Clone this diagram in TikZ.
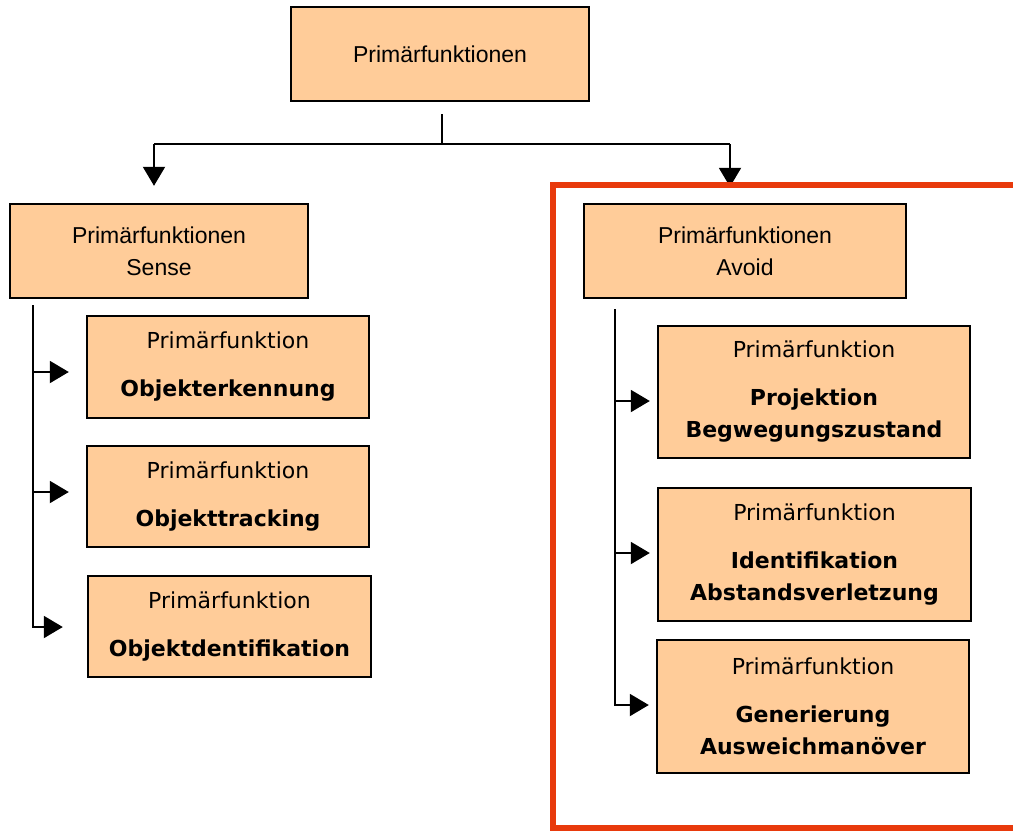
\documentclass[tikz,border=0pt]{standalone}
\usepackage{fontspec}
\setmainfont{DejaVu Sans}
\newfontfamily\headfont{Liberation Sans}
\usepackage{tikz}
\usetikzlibrary{arrows.meta}
\definecolor{boxfill}{RGB}{255,204,153}
\definecolor{frame}{RGB}{232,58,12}

\begin{document}
\begin{tikzpicture}[x=0.5pt, y=-0.5pt,
    headbox/.style={draw=black, line width=1.2pt, fill=boxfill, align=center, inner sep=0pt,
        minimum height=47pt, font=\headfont\fontsize{11.5}{16}\selectfont},
    subbox/.style={draw=black, line width=1.2pt, fill=boxfill, align=center, inner sep=0pt,
        font=\fontsize{11}{16}\selectfont},
    line/.style={draw=black, line width=1pt},
    conn/.style={line, -{Triangle[length=9.5pt, width=11pt]}}]
    \useasboundingbox (0,0) rectangle (1013,831);

    % Top level
    \node[headbox, minimum width=149pt] (top) at (440,54) {Primärfunktionen};
    \node[headbox, minimum width=149pt] (sense) at (159,251) {Primärfunktionen\\Sense};
    \node[headbox, minimum width=161pt] (avoid) at (745,251) {Primärfunktionen\\Avoid};

    % Sense
    \node[subbox, minimum width=141pt, minimum height=51pt] (erkennung) at (228,367)
        {Primärfunktion\\[8pt]\textbf{Objekterkennung}};
    \node[subbox, minimum width=141pt, minimum height=50.5pt] (tracking) at (228,496.5)
        {Primärfunktion\\[8pt]\textbf{Objekttracking}};
    \node[subbox, minimum width=141.5pt, minimum height=50.5pt] (identifikation) at (229.5,626.5)
        {Primärfunktion\\[8pt]\textbf{Objektdentifikation}};

    % Avoid
    \node[subbox, minimum width=156pt, minimum height=66pt] (projektion) at (814,392)
        {Primärfunktion\\[8pt]\textbf{Projektion}\\\textbf{Begwegungszustand}};
    \node[subbox, minimum width=156.5pt, minimum height=66.5pt] (abstand) at (814.5,554.5)
        {Primärfunktion\\[8pt]\textbf{Identifikation}\\\textbf{Abstandsverletzung}};
    \node[subbox, minimum width=156pt, minimum height=66.5pt] (ausweich) at (813,706.5)
        {Primärfunktion\\[8pt]\textbf{Generierung}\\\textbf{Ausweichmanöver}};

    % Split below the top box
    \coordinate (hubtop) at (442,114);
    \coordinate (hub) at (442,144);
    \coordinate (hubleft) at (154,144);
    \coordinate (hubright) at (730,144);
    \draw[line] (hubtop) -- (hub);
    \draw[line] (hubleft) -- (hubright);
    \draw[conn, shorten >=8.5pt] (hubleft) -- (hubleft |- sense.north);
    \draw[conn, shorten >=8pt] (hubright) -- (hubright |- avoid.north);

    % Sense tree
    \coordinate (sensebar) at (33,305);
    \coordinate (s1) at (33,372);
    \coordinate (s2) at (33,492);
    \coordinate (s3) at (33,627);
    \draw[conn, shorten >=12pt] (sensebar) |- (identifikation.west |- s3);
    \draw[conn, shorten >=8.5pt] (s1) -- (erkennung.west |- s1);
    \draw[conn, shorten >=8.5pt] (s2) -- (tracking.west |- s2);

    % Avoid tree
    \coordinate (avoidbar) at (615,309);
    \coordinate (a1) at (615,401);
    \coordinate (a2) at (615,553);
    \coordinate (a3) at (615,705);
    \draw[conn, shorten >=3.5pt] (avoidbar) |- (ausweich.west |- a3);
    \draw[conn, shorten >=3.5pt] (a1) -- (projektion.west |- a1);
    \draw[conn, shorten >=3.5pt] (a2) -- (abstand.west |- a2);

    % Red frame round the Avoid part
    \draw[frame, line width=2.8pt] (1013,185) -- (553,185) -- (553,828) -- (1013,828);
\end{tikzpicture}
\end{document}
